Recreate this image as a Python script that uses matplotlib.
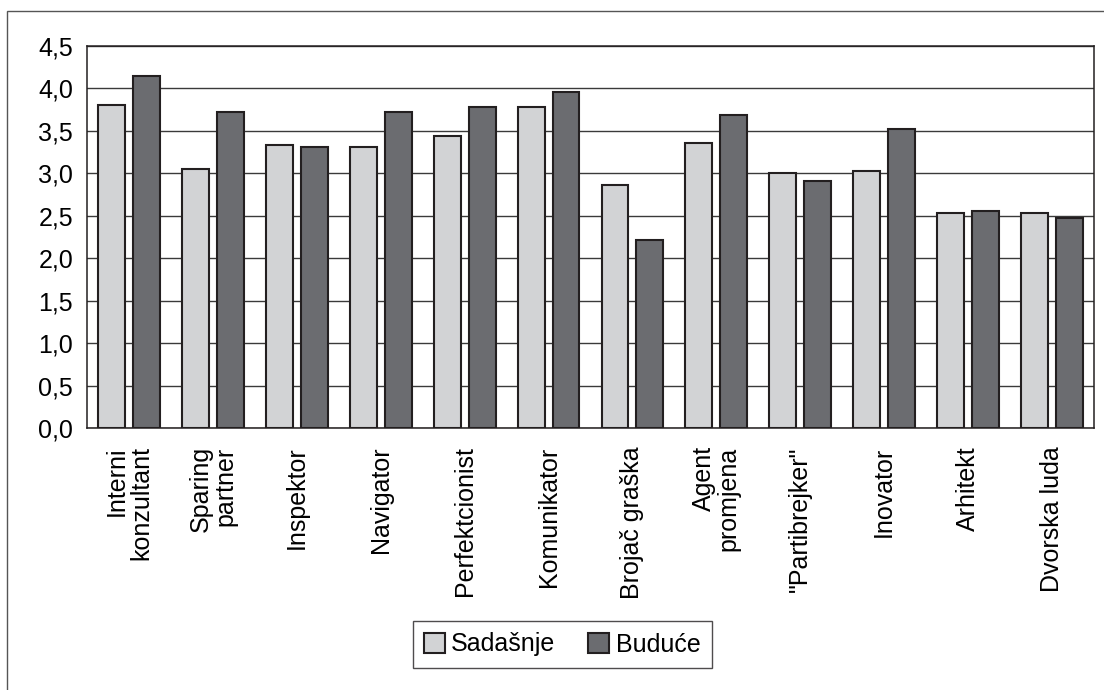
import numpy as np
import matplotlib
matplotlib.use("Agg")
import matplotlib.pyplot as plt
from matplotlib.patches import Rectangle

plt.rcParams['font.family'] = ['Liberation Sans', 'DejaVu Sans']

# role categories and mean scores (current vs. future)
categories = ["Interni\nkonzultant", "Sparing\npartner", "Inspektor", "Navigator",
              "Perfektcionist", "Komunikator", "Brojač graška", "Agent\npromjena",
              "\"Partibrejker\"", "Inovator", "Arhitekt", "Dvorska luda"]
sadasnje = [3.80, 3.05, 3.33, 3.31, 3.44, 3.78, 2.86, 3.36, 3.00, 3.03, 2.53, 2.53]
buduce = [4.14, 3.72, 3.31, 3.72, 3.78, 3.95, 2.22, 3.69, 2.91, 3.52, 2.56, 2.47]
y_ticks = [0.0, 0.5, 1.0, 1.5, 2.0, 2.5, 3.0, 3.5, 4.0, 4.5]

light = '#d2d3d5'
dark = '#6b6c70'
edge = '#231f20'
fs = 18

fig = plt.figure(figsize=(11.04, 6.9), dpi=100)
ax = fig.add_axes([87/1104, 1 - 428.3/690, (1094 - 87)/1104, (428.3 - 45.7)/690])

x = np.arange(len(categories))
off = 0.208
w = 0.32
ax.bar(x - off, sadasnje, width=w, color=light, edgecolor=edge, linewidth=1.5,
       label='Sadašnje', zorder=3)
ax.bar(x + off, buduce, width=w, color=dark, edgecolor=edge, linewidth=1.5,
       label='Buduće', zorder=3)

ax.set_xlim(-0.5, len(categories) - 0.5)
ax.set_ylim(0, 4.5)
ax.set_yticks(y_ticks)
ax.set_yticklabels([f"{v:.1f}".replace('.', ',') for v in y_ticks], fontsize=fs)
ax.set_xticks(x)
ax.set_xticklabels(categories, rotation=90, fontsize=fs, ha='center', va='top',
                   multialignment='right', linespacing=1.05)
ax.tick_params(axis='y', length=0, pad=10)
ax.tick_params(axis='x', length=0, pad=13)

ax.yaxis.grid(True, color='#3a3a3a', linewidth=1.0, zorder=0)
ax.set_axisbelow(True)
for s in ax.spines.values():
    s.set_color(edge)
    s.set_linewidth(1.1)

leg = fig.legend(loc='center', bbox_to_anchor=(562/1104, 1 - 644.5/690), ncol=2,
                 fontsize=fs, frameon=True, fancybox=False, handlelength=0.85,
                 handleheight=0.85, handletextpad=0.25, columnspacing=1.3,
                 borderpad=0.45)
leg.get_frame().set_edgecolor(edge)
leg.get_frame().set_linewidth(1.0)

# thin outer frame around the whole chart
fig.patches.append(Rectangle((7/1104, -0.1), 1.2, 1 - 11/690 + 0.1,
                             transform=fig.transFigure, fill=False,
                             edgecolor='#555555', linewidth=1.0))

fig.savefig('out.png', dpi=100)
